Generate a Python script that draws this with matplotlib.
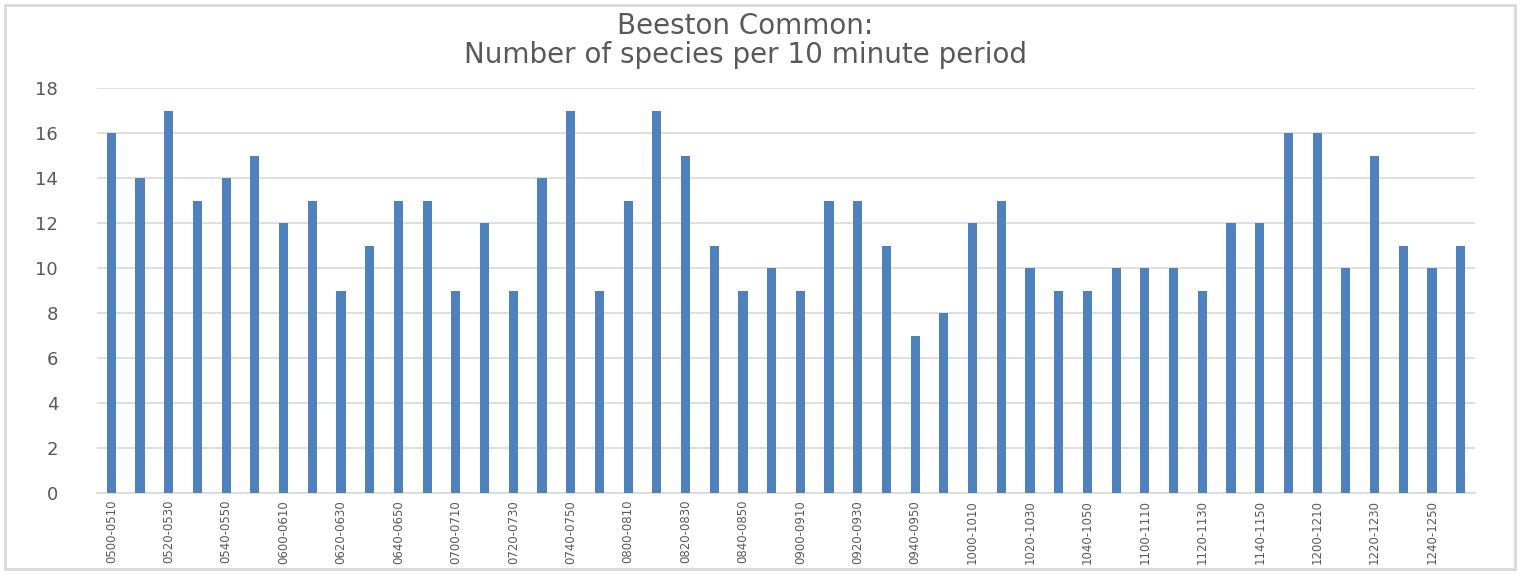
import numpy as np
import matplotlib.pyplot as plt
from matplotlib.patches import Rectangle

# ==========================
# DATA
# ==========================

periods = [
    "0500-0510", "0510-0520", "0520-0530", "0530-0540", "0540-0550", "0550-0600",
    "0600-0610", "0610-0620", "0620-0630", "0630-0640", "0640-0650", "0650-0700",
    "0700-0710", "0710-0720", "0720-0730", "0730-0740", "0740-0750", "0750-0800",
    "0800-0810", "0810-0820", "0820-0830", "0830-0840", "0840-0850", "0850-0900",
    "0900-0910", "0910-0920", "0920-0930", "0930-0940", "0940-0950", "0950-1000",
    "1000-1010", "1010-1020", "1020-1030", "1030-1040", "1040-1050", "1050-1100",
    "1100-1110", "1110-1120", "1120-1130", "1130-1140", "1140-1150", "1150-1200",
    "1200-1210", "1210-1220", "1220-1230", "1230-1240", "1240-1250", "1250-1300",
]

species = [
    16, 14, 17, 13, 14, 15, 12, 13, 9, 11, 13, 13,
    9, 12, 9, 14, 17, 9, 13, 17, 15, 11, 9, 10,
    9, 13, 13, 11, 7, 8, 12, 13, 10, 9, 9, 10,
    10, 10, 9, 12, 12, 16, 16, 10, 15, 11, 10, 11,
]

y_ticks = [0, 2, 4, 6, 8, 10, 12, 14, 16, 18]

# ==========================
# PLOT
# ==========================

text_col = "#595959"
bar_col = "#4F81BD"

fig = plt.figure(figsize=(15.21, 5.74), dpi=100)
ax = fig.add_axes([97 / 1521, 81 / 574, (1475 - 97) / 1521, (493 - 88) / 574])

x = np.arange(len(species))
ax.bar(x, species, width=0.32, color=bar_col, zorder=3)

ax.set_xlim(-0.5, len(species) - 0.5)
ax.set_ylim(0, 18)
ax.set_yticks(y_ticks)
ax.set_yticklabels([str(v) for v in y_ticks], fontsize=13, color=text_col)
ax.tick_params(axis="y", length=0, pad=28)

ax.set_xticks(x[::2])
ax.set_xticklabels(periods[::2], rotation=90, fontsize=8.5, color=text_col)
ax.tick_params(axis="x", length=0, pad=5)

ax.grid(axis="y", color="#D9D9D9", linewidth=1.2, zorder=0)
for side in ["top", "left", "right"]:
    ax.spines[side].set_visible(False)
ax.spines["bottom"].set_color("#D9D9D9")
ax.spines["bottom"].set_linewidth(1.2)

fig.text(0.49, 0.955, "Beeston Common:", ha="center", va="center",
         fontsize=20, color=text_col)
fig.text(0.49, 0.905, "Number of species per 10 minute period", ha="center",
         va="center", fontsize=20, color=text_col)

# chart border
fig.patches.append(Rectangle((5 / 1521, 5 / 574), 1510 / 1521, 564 / 574,
                             transform=fig.transFigure, fill=False,
                             edgecolor="#D9D9D9", linewidth=2))

plt.savefig("out.png", dpi=100)
